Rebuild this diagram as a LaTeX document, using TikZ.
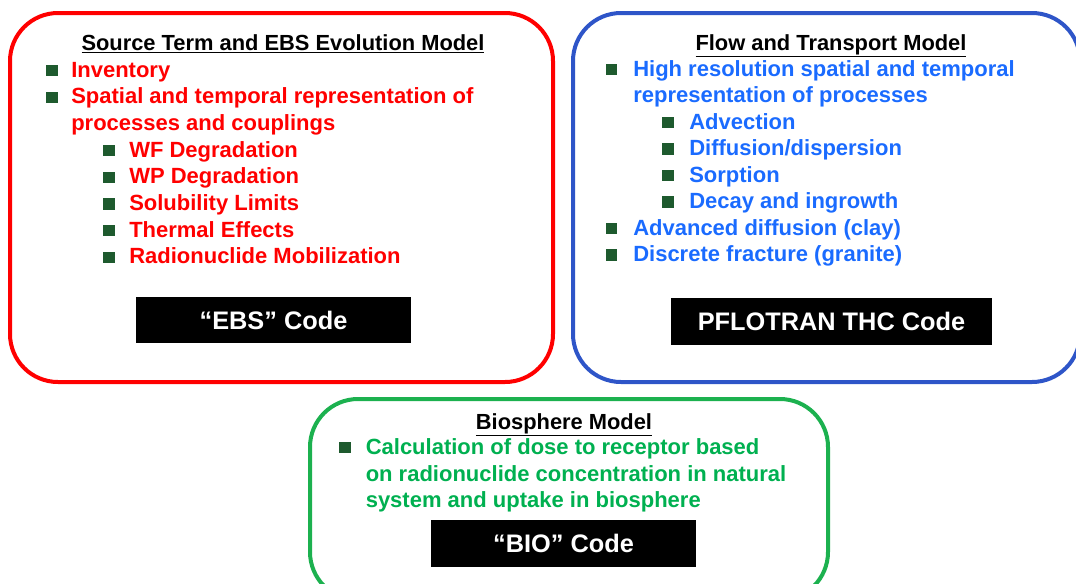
\documentclass[tikz,border=0pt]{standalone}
\usepackage{fontspec}
\setmainfont{Liberation Sans}
\definecolor{rd}{HTML}{FF0000}
\definecolor{bl}{HTML}{1A6BFF}
\definecolor{blframe}{HTML}{2E55C8}
\definecolor{gr}{HTML}{00B050}
\definecolor{grframe}{HTML}{1CB14F}
\definecolor{bul}{HTML}{1E5A2E}
\tikzset{
  frame/.style={line width=3pt, rounded corners=36pt},
  bulsq/.style={fill=bul, draw=none, minimum size=8.5pt, inner sep=0pt},
  txt/.style={anchor=base west, inner sep=0pt, font=\bfseries\fontsize{16.5}{19}\selectfont},
  ttl/.style={anchor=base, inner sep=0pt, font=\bfseries\fontsize{16.4}{19}\selectfont},
  codebox/.style={fill=black, text=white, inner sep=0pt, font=\bfseries\fontsize{19}{22}\selectfont}
}
\begin{document}
\begin{tikzpicture}[x=0.75pt,y=-0.75pt]
\useasboundingbox (0,0) rectangle (1076,583);
% frames
\draw[frame, rd] (10,13) rectangle (553,382);
\draw[frame, blframe] (573,13) rectangle (1080,382);
\draw[frame, grframe] (310,399) rectangle (828,600);

% ---------- red panel ----------
\node[ttl] (rt) at (283,50) {\underline{Source Term and EBS Evolution Model}};
\node[bulsq] (rb1) at (52,70.5) {};
\node[txt, rd] (r1) at (71,77) {Inventory};
\node[bulsq] (rb2) at (52,97.2) {};
\node[txt, rd] (r2) at (71,103.7) {Spatial and temporal representation of};
\node[txt, rd] (r2b) at (71,130.4) {processes and couplings};
\node[bulsq] (rb3) at (109,150.5) {};
\node[txt, rd] (r3) at (129,157) {WF Degradation};
\node[bulsq] (rb4) at (109,177.2) {};
\node[txt, rd] (r4) at (129,183.7) {WP Degradation};
\node[bulsq] (rb5) at (109,203.9) {};
\node[txt, rd] (r5) at (129,210.4) {Solubility Limits};
\node[bulsq] (rb6) at (109,230.5) {};
\node[txt, rd] (r6) at (129,237) {Thermal Effects};
\node[bulsq] (rb7) at (109,257.3) {};
\node[txt, rd] (r7) at (129,263.8) {Radionuclide Mobilization};
\node[codebox, minimum width=206.25pt, minimum height=34.5pt] (ebs) at (273.5,320) {“EBS” Code};

% ---------- blue panel ----------
\node[ttl] (bt) at (831,50) {\underline{Flow and Transport Model}};
\node[bulsq] (bb1) at (611.5,69.5) {};
\node[txt, bl] (b1) at (633,76) {High resolution spatial and temporal};
\node[txt, bl] (b1b) at (633,102.5) {representation of processes};
\node[bulsq] (bb2) at (668,122.5) {};
\node[txt, bl] (b2) at (689,129) {Advection};
\node[bulsq] (bb3) at (668,149) {};
\node[txt, bl] (b3) at (689,155.5) {Diffusion/dispersion};
\node[bulsq] (bb4) at (668,175.5) {};
\node[txt, bl] (b4) at (689,182) {Sorption};
\node[bulsq] (bb5) at (668,202) {};
\node[txt, bl] (b5) at (689,208.5) {Decay and ingrowth};
\node[bulsq] (bb6) at (611.5,228.5) {};
\node[txt, bl] (b6) at (633,235) {Advanced diffusion (clay)};
\node[bulsq] (bb7) at (611.5,255) {};
\node[txt, bl] (b7) at (633,261.5) {Discrete fracture (granite)};
\node[codebox, minimum width=240.75pt, minimum height=35.25pt] (pfl) at (831.5,321.5) {PFLOTRAN THC Code};

% ---------- green panel ----------
\node[ttl] (gt) at (564,429) {\underline{Biosphere Model}};
\node[bulsq] (gb1) at (345,447.5) {};
\node[txt, gr] (g1) at (365.5,454) {Calculation of dose to receptor based};
\node[txt, gr] (g2) at (365.5,481) {on radionuclide concentration in natural};
\node[txt, gr] (g3) at (365.5,507) {system and uptake in biosphere};
\node[codebox, minimum width=198.75pt, minimum height=35.25pt] (bio) at (563.5,543.5) {“BIO” Code};
\end{tikzpicture}
\end{document}
